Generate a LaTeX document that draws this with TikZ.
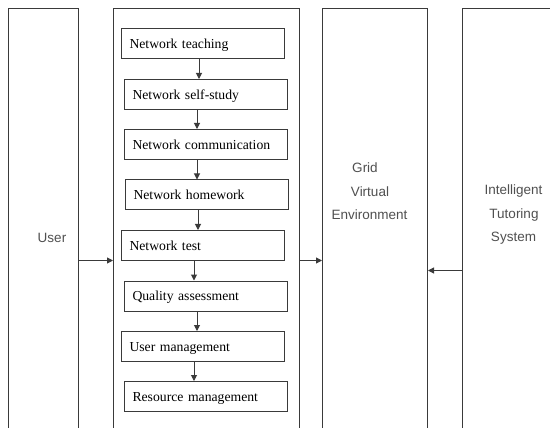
\documentclass[tikz,border=0pt]{standalone}
\usepackage{fontspec}
\setmainfont{Liberation Serif}
\setsansfont{Liberation Sans}
\usetikzlibrary{arrows.meta}
\definecolor{linec}{HTML}{3A3A3A}
\definecolor{sanstext}{HTML}{505050}
\begin{document}
\begin{tikzpicture}[x=1pt,y=-1pt,
  bigbox/.style={draw=linec, line width=1pt, fill=white},
  stepbox/.style={draw=linec, line width=1pt, fill=white, minimum width=163pt, minimum height=30pt,
    inner xsep=8pt, inner ysep=0pt, text width=147pt, align=left, anchor=north west,
    text height=11.5pt, text depth=2pt,
    font=\fontsize{13.7}{16}\selectfont},
  sidelabel/.style={font=\sffamily\fontsize{13.5}{16}\selectfont, text=sanstext, inner sep=0pt},
  arr/.style={draw=linec, line width=1pt, -{Triangle[length=6pt,width=6pt]}}]
\useasboundingbox (0,0) rectangle (550,428);
\fill[white] (0,0) rectangle (550,428);
\clip (0,0) rectangle (550,428);
% big boxes (cut by the lower edge)
\node[bigbox, minimum width=70pt, minimum height=450pt, anchor=north west] (user) at (8,8) {};
\node[bigbox, minimum width=186pt, minimum height=450pt, anchor=north west] (mid) at (113,8) {};
\node[bigbox, minimum width=105pt, minimum height=450pt, anchor=north west] (grid) at (322,8) {};
\node[bigbox, minimum width=120pt, minimum height=450pt, anchor=north west] (its) at (462,8) {};
% labels
\node[sidelabel] (userlbl) at (52,238) {User};
\node[sidelabel] (g1) at (365,168) {Grid};
\node[sidelabel] (g2) at (370,191.5) {Virtual};
\node[sidelabel] (g3) at (369.5,215) {Environment};
\node[sidelabel] (i1) at (513.5,191.5) {Intelligent};
\node[sidelabel] (i2) at (514,215) {Tutoring};
\node[sidelabel] (i3) at (513.5,238) {System};
% step boxes
\node[stepbox] (s1) at (121,28) {Network teaching};
\node[stepbox] (s2) at (124,79) {Network self-study};
\node[stepbox] (s3) at (124,129) {Network communication};
\node[stepbox, minimum width=161pt] (s4) at (125,179.5) {Network homework};
\node[stepbox] (s5) at (121,230) {Network test};
\node[stepbox] (s6) at (124,280.5) {Quality assessment};
\node[stepbox] (s7) at (121,331) {User management};
\node[stepbox] (s8) at (124,381) {Resource management};
% vertical arrows
\draw[arr] (s1.south -| 199,0) -- (s2.north -| 199,0);
\draw[arr] (s2.south -| 197,0) -- (s3.north -| 197,0);
\draw[arr] (s3.south -| 197,0) -- (s4.north -| 197,0);
\draw[arr] (s4.south -| 198,0) -- (s5.north -| 198,0);
\draw[arr] (s5.south -| 194,0) -- (s6.north -| 194,0);
\draw[arr] (s6.south -| 197,0) -- (s7.north -| 197,0);
\draw[arr] (s7.south -| 194,0) -- (s8.north -| 194,0);
% horizontal arrows
\draw[arr] (user.east |- 0,260.5) -- (mid.west |- 0,260.5);
\draw[arr] (mid.east |- 0,260.5) -- (grid.west |- 0,260.5);
\draw[arr] (its.west |- 0,270.5) -- (grid.east |- 0,270.5);
\end{tikzpicture}
\end{document}
